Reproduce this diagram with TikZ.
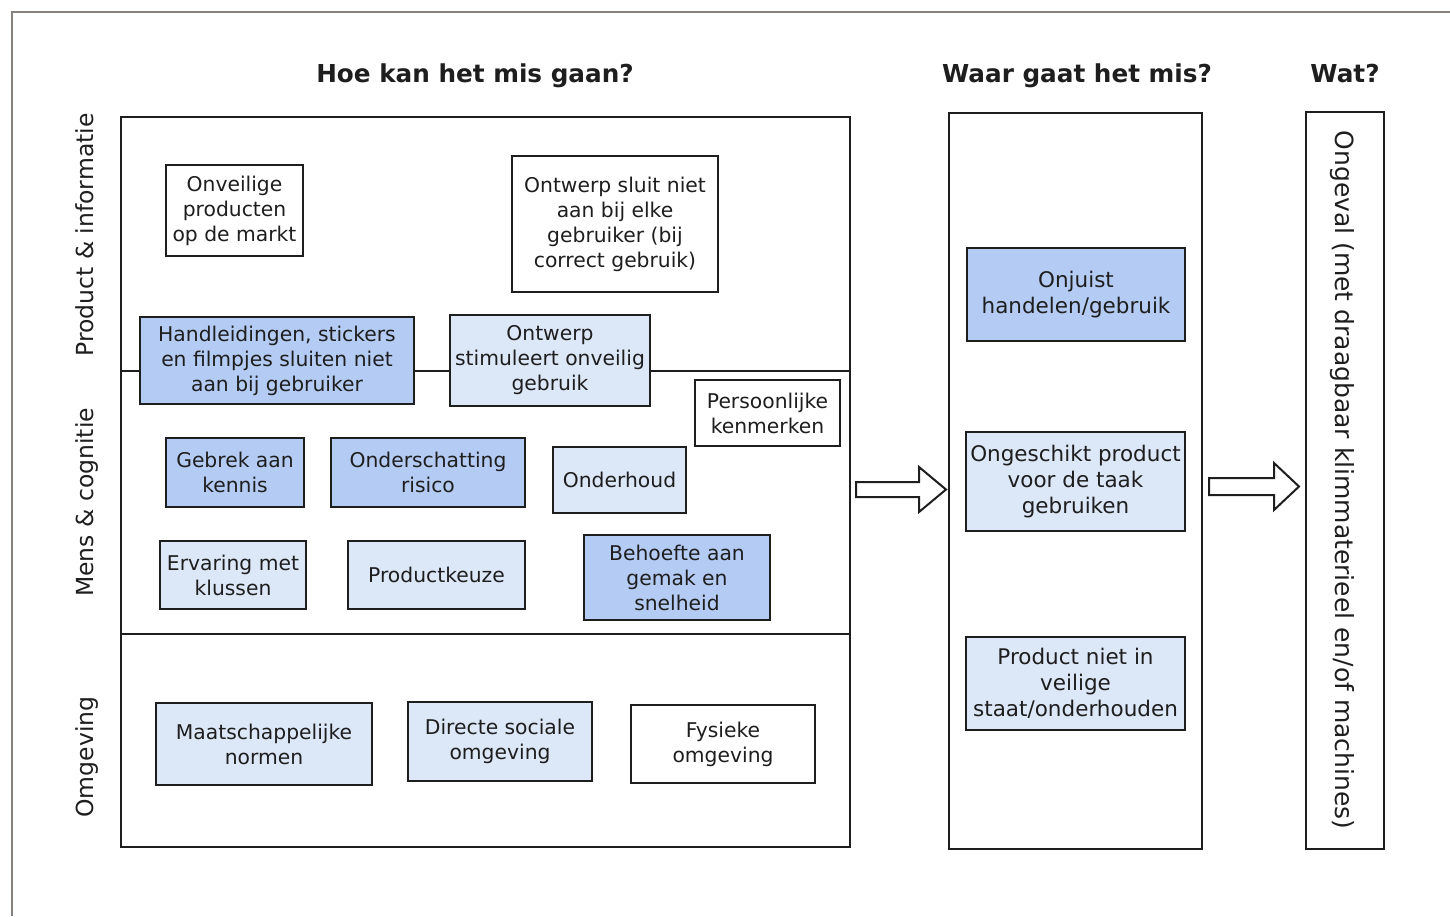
\documentclass[tikz,border=0pt]{standalone}
\usepackage{fontspec}
\setmainfont{DejaVu Sans}
\usetikzlibrary{calc}
\definecolor{dk}{HTML}{B4CCF4}
\definecolor{lt}{HTML}{DCE7F8}
\definecolor{framegrey}{HTML}{86817F}
\definecolor{ink}{HTML}{1E1E1E}
\begin{document}
\begin{tikzpicture}[x=1pt,y=-1pt,
  every node/.style={text=ink},
  box/.style={draw=ink, line width=1.8pt, align=center, inner sep=1pt,
    font=\fontsize{20.3}{25}\selectfont},
  boxr/.style={box, font=\fontsize{21.5}{26}\selectfont},
  frame/.style={draw=ink, line width=2pt, inner sep=0pt},
  title/.style={font=\fontsize{24.7}{28}\selectfont\bfseries, anchor=base},
  side/.style={font=\fontsize{23.5}{28}\selectfont, anchor=base, rotate=90},
  blockarrow/.style={draw=ink, fill=white, line width=2pt, line join=miter}
]
\useasboundingbox (0,0) rectangle (1450,916);
% outer frame (cut off at right and bottom)
\draw[framegrey, line width=2pt] (12,916) -- (12,12) -- (1450,12);

% column titles
\node[title] (t1) at (475,82) {Hoe kan het mis gaan?};
\node[title] (t2) at (1077,82) {Waar gaat het mis?};
\node[title] (t3) at (1345,82) {Wat?};

% row labels
\node[side] (r1) at (93,235) {Product \& informatie};
\node[side] (r2) at (93,502.5) {Mens \& cognitie};
\node[side] (r3) at (93,757) {Omgeving};

% frames
\node[frame, minimum width=729, minimum height=730] (hoe) at (485.5,482) {};
\node[frame, minimum width=253, minimum height=736] (waar) at (1075.5,481) {};
\node[frame, minimum width=78, minimum height=737] (wat) at (1345,480.5) {};
\node[font=\fontsize{25}{30}\selectfont, anchor=base, rotate=-90] (ongeval)
  at (1335,480) {Ongeval (met draagbaar klimmaterieel en/of machines)};

% row dividers
\draw[ink, line width=2pt] (hoe.west |- 0,371) -- (hoe.east |- 0,371);
\draw[ink, line width=2pt] (hoe.west |- 0,634) -- (hoe.east |- 0,634);

% product & informatie
\node[box, fill=white, minimum width=137, minimum height=91] (onv) at (234.5,210.5)
  {Onveilige\\producten\\op de markt};
\node[box, fill=white, minimum width=206, minimum height=136] (ontsl) at (615,224)
  {Ontwerp sluit niet\\aan bij elke\\gebruiker (bij\\correct gebruik)};
\node[box, fill=dk, minimum width=274, minimum height=87] (handl) at (277,360.5)
  {Handleidingen, stickers\\en filmpjes sluiten niet\\aan bij gebruiker};
\node[box, fill=lt, minimum width=200, minimum height=91] (ontst) at (550,360.5)
  {Ontwerp\\stimuleert onveilig\\gebruik};

% mens & cognitie
\node[box, fill=white, minimum width=145, minimum height=66] (pers) at (767.5,413)
  {Persoonlijke\\kenmerken};
\node[box, fill=dk, minimum width=138, minimum height=69] (gebrek) at (235,472.5)
  {Gebrek aan\\kennis};
\node[box, fill=dk, minimum width=194, minimum height=69] (onders) at (428,472.5)
  {Onderschatting\\risico};
\node[box, fill=lt, minimum width=133, minimum height=66] (onderh) at (619.5,480)
  {Onderhoud};
\node[box, fill=lt, minimum width=146, minimum height=68] (ervar) at (233,575)
  {Ervaring met\\klussen};
\node[box, fill=lt, minimum width=177, minimum height=68] (prodk) at (436.5,575)
  {Productkeuze};
\node[box, fill=dk, minimum width=186, minimum height=85] (behoef) at (677,577.5)
  {Behoefte aan\\gemak en\\snelheid};

% omgeving
\node[box, fill=lt, minimum width=216, minimum height=82] (maatsch) at (264,744)
  {Maatschappelijke\\normen};
\node[box, fill=lt, minimum width=184, minimum height=79] (direct) at (500,741.5)
  {Directe sociale\\omgeving};
\node[box, fill=white, minimum width=184, minimum height=78] (fysiek) at (723,744)
  {Fysieke\\omgeving};

% waar gaat het mis
\node[boxr, fill=dk, minimum width=218, minimum height=93] (onjuist) at (1076,294.5)
  {Onjuist\\handelen/gebruik};
\node[boxr, fill=lt, minimum width=219, minimum height=99] (ongesch) at (1075.5,481.5)
  {Ongeschikt product\\voor de taak\\gebruiken};
\node[boxr, fill=lt, minimum width=219, minimum height=93] (prodniet) at (1075.5,683.5)
  {Product niet in\\veilige\\staat/onderhouden};

% block arrows between the columns
\coordinate (a1) at ($(hoe.east |- 0,489.5)+(5,0)$);
\coordinate (a2) at ($(waar.east |- 0,486.5)+(6,0)$);
\draw[blockarrow] (a1) ++(0,-7.5) -- ++(63,0) -- ++(0,-15) -- ++(27,22.5)
  -- ++(-27,22.5) -- ++(0,-15) -- ++(-63,0) -- cycle;
\draw[blockarrow] (a2) ++(0,-8.5) -- ++(65,0) -- ++(0,-15) -- ++(25,23.5)
  -- ++(-25,23.5) -- ++(0,-15) -- ++(-65,0) -- cycle;
\end{tikzpicture}
\end{document}
